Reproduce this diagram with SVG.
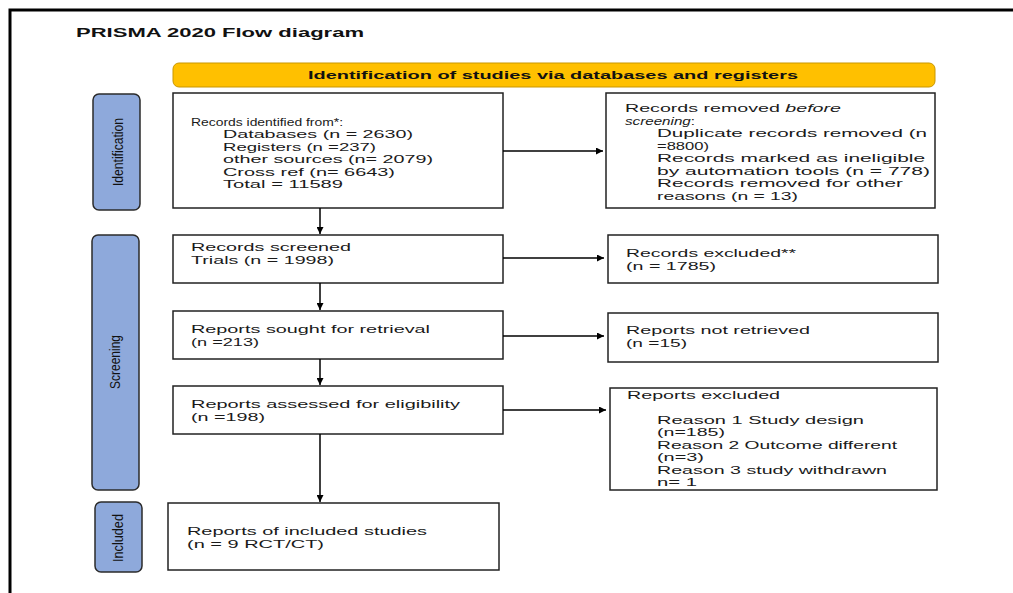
<svg xmlns="http://www.w3.org/2000/svg" width="1013" height="593" viewBox="0 0 1013 593">
<defs>
<marker id="ah" viewBox="0 0 10 10" refX="10" refY="5" markerWidth="9" markerHeight="7" markerUnits="userSpaceOnUse" orient="auto">
<path d="M0,0 L10,5 L0,10 z" fill="#000"/>
</marker>
<style>
.box{fill:#fff;stroke:#222;stroke-width:1.5}
.lab{fill:#8EA9DB;stroke:#2b2b2b;stroke-width:1.5}
.t{font-family:"Liberation Sans",Arial,sans-serif;font-size:11.5px;fill:#1a1a1a}
.b{font-family:"Liberation Sans",Arial,sans-serif;font-weight:bold;fill:#111}
.v{font-family:"Liberation Sans",Arial,sans-serif;font-size:14.5px;fill:#111;text-anchor:middle}
.c{stroke:#000;stroke-width:1.5;fill:none;marker-end:url(#ah)}
</style>
</defs>
<rect width="1013" height="593" fill="#fff"/>
<path d="M10,593 V10 H1013" fill="none" stroke="#000" stroke-width="3"/>
<text class="b" x="76" y="37" font-size="12.5" textLength="288" lengthAdjust="spacingAndGlyphs">PRISMA 2020 Flow diagram</text>

<g id="banner">
<rect x="173" y="63" width="762" height="24" rx="6" fill="#FFC000" stroke="#c99700" stroke-width="1"/>
<text class="b" x="308" y="78.5" font-size="11.5" textLength="490" lengthAdjust="spacingAndGlyphs">Identification of studies via databases and registers</text>
</g>

<g id="lab-identification">
<rect class="lab" x="93" y="94" width="47" height="116" rx="6"/>
<text class="v" transform="translate(123,152) rotate(-90)" textLength="68" lengthAdjust="spacingAndGlyphs">Identification</text>
</g>
<g id="lab-screening">
<rect class="lab" x="92" y="235" width="47" height="255" rx="6"/>
<text class="v" transform="translate(120,362) rotate(-90)" textLength="54" lengthAdjust="spacingAndGlyphs">Screening</text>
</g>
<g id="lab-included">
<rect class="lab" x="95" y="502" width="47" height="70" rx="6"/>
<text class="v" transform="translate(123,538) rotate(-90)" textLength="48" lengthAdjust="spacingAndGlyphs">Included</text>
</g>

<g id="records-identified">
<rect class="box" x="173" y="93" width="330" height="115"/>
<text class="t" x="191" y="125.5" textLength="152" lengthAdjust="spacingAndGlyphs">Records identified from*:</text>
<text class="t" x="223" y="138" textLength="190" lengthAdjust="spacingAndGlyphs">Databases (n = 2630)</text>
<text class="t" x="223" y="150.5" textLength="153" lengthAdjust="spacingAndGlyphs">Registers (n =237)</text>
<text class="t" x="223" y="163" textLength="210" lengthAdjust="spacingAndGlyphs">other sources (n= 2079)</text>
<text class="t" x="223" y="175.5" textLength="172" lengthAdjust="spacingAndGlyphs">Cross ref (n= 6643)</text>
<text class="t" x="223" y="188" textLength="120" lengthAdjust="spacingAndGlyphs">Total = 11589</text>
</g>

<g id="records-removed">
<rect class="box" x="606" y="93" width="329" height="115"/>
<text class="t" x="625" y="112" textLength="216" lengthAdjust="spacingAndGlyphs">Records removed <tspan font-style="italic">before</tspan></text>
<text class="t" x="625" y="124.5" textLength="70" lengthAdjust="spacingAndGlyphs"><tspan font-style="italic">screening</tspan>:</text>
<text class="t" x="657" y="137" textLength="270" lengthAdjust="spacingAndGlyphs">Duplicate records removed (n</text>
<text class="t" x="657" y="149.5" textLength="52" lengthAdjust="spacingAndGlyphs">=8800)</text>
<text class="t" x="657" y="162" textLength="268" lengthAdjust="spacingAndGlyphs">Records marked as ineligible</text>
<text class="t" x="657" y="174.5" textLength="273" lengthAdjust="spacingAndGlyphs">by automation tools (n = 778)</text>
<text class="t" x="657" y="187" textLength="246" lengthAdjust="spacingAndGlyphs">Records removed for other</text>
<text class="t" x="657" y="199.5" textLength="141" lengthAdjust="spacingAndGlyphs">reasons (n = 13)</text>
</g>

<g id="records-screened">
<rect class="box" x="173" y="235" width="330" height="48"/>
<text class="t" x="191" y="251" textLength="160" lengthAdjust="spacingAndGlyphs">Records screened</text>
<text class="t" x="191" y="263.5" textLength="143" lengthAdjust="spacingAndGlyphs">Trials (n = 1998)</text>
</g>

<g id="records-excluded">
<rect class="box" x="608" y="235" width="330" height="48"/>
<text class="t" x="626" y="257" textLength="170" lengthAdjust="spacingAndGlyphs">Records excluded**</text>
<text class="t" x="626" y="269.5" textLength="90" lengthAdjust="spacingAndGlyphs">(n = 1785)</text>
</g>

<g id="reports-sought">
<rect class="box" x="173" y="311" width="330" height="48"/>
<text class="t" x="191" y="333" textLength="239" lengthAdjust="spacingAndGlyphs">Reports sought for retrieval</text>
<text class="t" x="191" y="345.5" textLength="68" lengthAdjust="spacingAndGlyphs">(n =213)</text>
</g>

<g id="reports-not-retrieved">
<rect class="box" x="608" y="313" width="330" height="49"/>
<text class="t" x="626" y="334" textLength="184" lengthAdjust="spacingAndGlyphs">Reports not retrieved</text>
<text class="t" x="626" y="346.5" textLength="61" lengthAdjust="spacingAndGlyphs">(n =15)</text>
</g>

<g id="reports-assessed">
<rect class="box" x="173" y="386" width="330" height="48"/>
<text class="t" x="191" y="408" textLength="269" lengthAdjust="spacingAndGlyphs">Reports assessed for eligibility</text>
<text class="t" x="191" y="420.5" textLength="74" lengthAdjust="spacingAndGlyphs">(n =198)</text>
</g>

<g id="reports-excluded">
<rect class="box" x="610" y="388" width="327" height="102"/>
<text class="t" x="627" y="399" textLength="153" lengthAdjust="spacingAndGlyphs">Reports excluded</text>
<text class="t" x="657" y="423.5" textLength="207" lengthAdjust="spacingAndGlyphs">Reason 1 Study design</text>
<text class="t" x="657" y="436" textLength="68" lengthAdjust="spacingAndGlyphs">(n=185)</text>
<text class="t" x="657" y="448.5" textLength="240" lengthAdjust="spacingAndGlyphs">Reason 2 Outcome different</text>
<text class="t" x="657" y="461" textLength="47" lengthAdjust="spacingAndGlyphs">(n=3)</text>
<text class="t" x="657" y="473.5" textLength="230" lengthAdjust="spacingAndGlyphs">Reason 3 study withdrawn</text>
<text class="t" x="657" y="486" textLength="40" lengthAdjust="spacingAndGlyphs">n= 1</text>
</g>

<g id="reports-included">
<rect class="box" x="168" y="503" width="331" height="67"/>
<text class="t" x="187" y="535" textLength="240" lengthAdjust="spacingAndGlyphs">Reports of included studies</text>
<text class="t" x="187" y="547.5" textLength="137" lengthAdjust="spacingAndGlyphs">(n = 9 RCT/CT)</text>
</g>

<g id="connectors">
<line class="c" x1="320" y1="208" x2="320" y2="234"/>
<line class="c" x1="320" y1="283" x2="320" y2="310"/>
<line class="c" x1="320" y1="359" x2="320" y2="385"/>
<line class="c" x1="320" y1="434" x2="320" y2="502"/>
<line class="c" x1="503" y1="151" x2="603" y2="151"/>
<line class="c" x1="503" y1="258" x2="604" y2="258"/>
<line class="c" x1="503" y1="336" x2="604" y2="336"/>
<line class="c" x1="503" y1="410" x2="606" y2="410"/>
</g>
</svg>
